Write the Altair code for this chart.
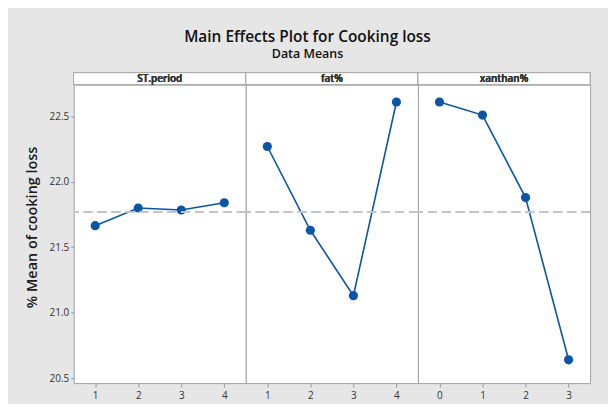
import altair as alt
import pandas as pd

factors = ["ST.period", "fat%", "xanthan%"]
levels_st = ["1", "2", "3", "4"]
means_st = [21.665, 21.80, 21.785, 21.84]
levels_fat = ["1", "2", "3", "4"]
means_fat = [22.27, 21.63, 21.13, 22.61]
levels_xan = ["0", "1", "2", "3"]
means_xan = [22.61, 22.51, 21.88, 20.64]
grand_mean = 21.77
y_ticks = [20.5, 21.0, 21.5, 22.0, 22.5]

BLUE = "#0a55a5"
W, H = 173, 300
FONT = "Open Sans"


def panel(name, levels, means, first):
    df = pd.DataFrame({"level": levels, "mean": means, "factor": name})
    ysc = alt.Scale(domain=[20.462, 22.743], nice=False, zero=False)
    if first:
        yax = alt.Axis(values=y_ticks, format=".1f", title="% Mean of cooking loss",
                       grid=False, domain=False, tickSize=3, tickColor="#999999",
                       labelFontSize=10, labelColor="#333333", labelPadding=2,
                       titleFontSize=14.5, titleFont=FONT, titleFontWeight=600,
                       titleColor="#1a1a1a", titlePadding=10, titleY=143)
    else:
        yax = None
    xenc = alt.X("level:O", scale=alt.Scale(type="point", domain=levels, padding=0.5),
                 axis=alt.Axis(title=None, labelAngle=0, domain=False, grid=False,
                               tickSize=4, tickColor="#999999", labelFontSize=10,
                               labelColor="#333333", labelPadding=3))
    base = alt.Chart(df)
    line = base.mark_line(color=BLUE, strokeWidth=1.6).encode(
        x=xenc, y=alt.Y("mean:Q", scale=ysc, axis=yax))
    pts = base.mark_point(filled=True, size=85, color=BLUE, opacity=1).encode(
        x="level:O", y=alt.Y("mean:Q", axis=yax))
    rule = base.mark_rule(color="#c4c4c4", strokeWidth=1.6, strokeDash=[9, 5]).encode(
        y=alt.datum(grand_mean))
    strip = base.mark_rect(fill="white", stroke="#a8a8a8", strokeWidth=1).encode(
        x=alt.value(0), x2=alt.value(W), y=alt.value(-12), y2=alt.value(0))
    strip_txt = base.mark_text(font=FONT, fontSize=10, fontWeight=600,
                               color="#333333", baseline="middle").encode(
        x=alt.value(W / 2), y=alt.value(-6), text=alt.value(name))
    return alt.layer(line, pts, rule, strip, strip_txt).properties(width=W, height=H)


chart = alt.hconcat(
    panel(factors[0], levels_st, means_st, True),
    panel(factors[1], levels_fat, means_fat, False),
    panel(factors[2], levels_xan, means_xan, False),
    spacing=0, bounds="flush",
).properties(
    title=alt.Title("Main Effects Plot for Cooking loss", subtitle="Data Means",
                    font=FONT, fontSize=15.5, fontWeight=600, color="#111111",
                    subtitleFont=FONT, subtitleFontSize=12.5, subtitleFontWeight=600,
                    subtitleColor="#111111",
                    subtitlePadding=3, anchor="middle", frame="bounds", offset=11),
    padding={"left": 15, "top": 21, "right": 16, "bottom": 2},
    background="#e6e6e6",
).configure_view(stroke="#a0a0a0", strokeWidth=1, fill="white").configure_axis(
    labelFont=FONT, titleFont=FONT)

chart.save("out.html", embed_options={"renderer": "svg", "actions": False})
